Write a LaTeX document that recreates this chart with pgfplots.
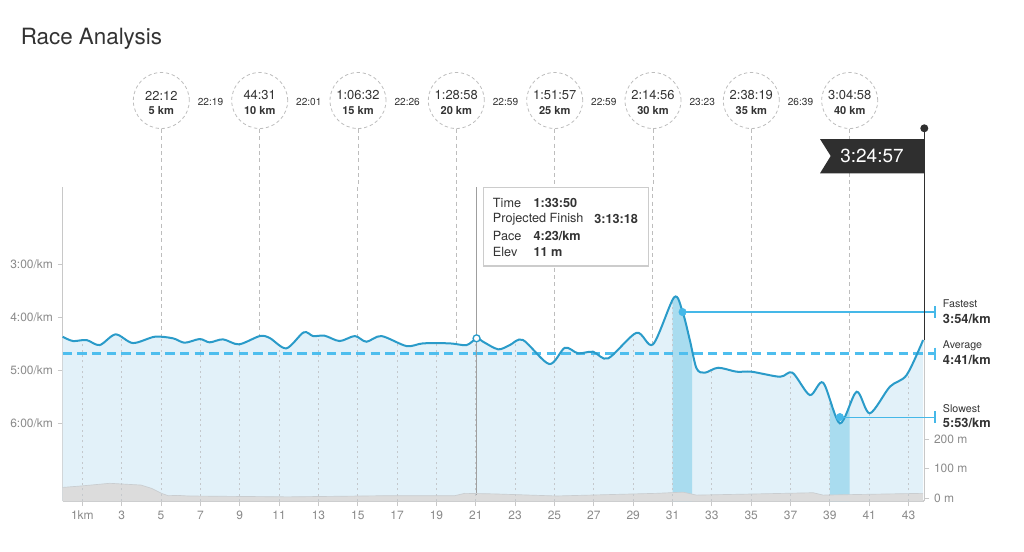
\documentclass[border=0pt]{standalone}
\usepackage{pgfplots}
\pgfplotsset{compat=1.18}
\usepgfplotslibrary{fillbetween}
\usepackage{pgfplotstable}
\usepackage{fontspec}
\setmainfont{TeX Gyre Heros}

\definecolor{paceline}{HTML}{2A9BC9}
\definecolor{pacefill}{HTML}{E2F1F9}
\definecolor{bandfill}{HTML}{A9DCEF}
\definecolor{avgc}{RGB}{78,190,238}
\definecolor{refc}{HTML}{45B8E8}
\definecolor{elevfill}{HTML}{DCDCDC}
\definecolor{elevedge}{HTML}{C9CDD0}
\definecolor{axgrey}{HTML}{C8C8C8}
\definecolor{labgrey}{HTML}{8A8A8A}
\definecolor{gridc}{HTML}{C4C8CC}
\definecolor{splitc}{HTML}{BDBDBD}
\definecolor{txtdark}{HTML}{333333}
\definecolor{flagc}{HTML}{2F2F2F}

\pgfplotstableread{
km pace
0 4.366
0.52 4.447
1.21 4.428
1.88 4.523
2.69 4.321
3.57 4.485
4.68 4.366
5.61 4.396
6.20 4.479
6.97 4.409
7.47 4.472
8.15 4.415
8.96 4.509
10.02 4.353
10.53 4.391
11.37 4.585
12.25 4.283
12.73 4.353
13.32 4.347
14.08 4.447
14.85 4.353
15.44 4.460
16.20 4.353
17.48 4.542
18.32 4.491
19.68 4.491
20.53 4.523
21.04 4.396
21.37 4.460
22.14 4.604
22.73 4.523
23.40 4.428
24.73 4.881
25.53 4.574
26.20 4.679
26.96 4.649
27.73 4.774
29.17 4.291
30.01 4.509
31.08 3.623
31.51 3.894
31.88 4.428
32.22 4.962
32.64 5.045
33.32 4.951
34.26 5.026
35.02 5.026
36.46 5.121
37.10 5.045
37.98 5.466
38.66 5.234
39.51 6.000
40.36 5.404
41.03 5.811
42.05 5.309
42.90 5.089
43.74 4.428
}\pacetable

\pgfplotstableread{
km elev
0 36
0.95 41
2.39 50
3.98 44
4.51 33
5.02 16
5.36 8
5.86 9
6.37 7
11.46 4
16.5 8
19.93 8
20.44 16
21.97 14
25.1 7
30.19 16
31.54 20
32.22 10
35.27 14
38.15 18
38.66 10
42.05 14
43.74 16
}\elevtable

\begin{document}
\begin{tikzpicture}
\begin{scope}[x=0.75pt,y=-0.75pt,shift={(-62.7,-501)}]
\useasboundingbox (0,0) rectangle (1024,551);
\end{scope}

\begin{axis}[
  at={(0,0)}, anchor=south west, scale only axis,
  width=646.2pt, height=235.5pt,
  xmin=0, xmax=43.8, ymin=-7.466, ymax=-1.54,
  clip=false,
  axis x line*=bottom, axis y line*=left,
  axis line style={draw=axgrey, line width=0.8pt},
  xtick={1,3,...,43},
  xticklabels={1km,3,5,7,9,11,13,15,17,19,21,23,25,27,29,31,33,35,37,39,41,43},
  ytick={-6,-5,-4,-3},
  yticklabels={6:00/km,5:00/km,4:00/km,3:00/km},
  tick align=outside, major tick length=3.75pt,
  tick style={draw=axgrey, line width=0.6pt},
  ticklabel style={font=\fontsize{9}{10}\selectfont, text=labgrey},
]
\addplot[draw=none, name path=pace, smooth] table[x=km, y expr=-\thisrow{pace}] {\pacetable};
\path[name path=bot] (axis cs:0,-7.466) -- (axis cs:43.74,-7.466);
\path[name path=topl] (axis cs:0,-1.54) -- (axis cs:43.74,-1.54);
\addplot[fill=pacefill, draw=none] fill between[of=pace and bot];
\addplot[fill=bandfill, draw=none] fill between[of=pace and bot, soft clip={domain=31:32}];
\addplot[fill=bandfill, draw=none] fill between[of=pace and bot, soft clip={domain=39:40}];
\begin{scope}
\clip[intersection segments={of=pace and bot, sequence={A* -- B*[reverse]}}] -- cycle;
\pgfplotsinvokeforeach{1,3,...,43}{\draw[gridc, line width=0.6pt, dash pattern=on 1.5pt off 2.5pt] (axis cs:#1,-7.466) -- (axis cs:#1,-1.54);}
\end{scope}
\begin{scope}
\clip[intersection segments={of=pace and topl, sequence={A* -- B*[reverse]}}] -- cycle;
\pgfplotsinvokeforeach{5,10,...,40}{\draw[splitc, line width=0.7pt, dash pattern=on 3pt off 2.5pt] (axis cs:#1,-1.54) -- (axis cs:#1,-7.466);}
\end{scope}
% average
\addplot[draw=avgc, line width=1.6pt, dash pattern=on 7pt off 4pt, line cap=butt, mark=none, forget plot] coordinates {(0,-4.683) (44.34,-4.683)};
\addplot[draw=avgc, solid, line width=0.9pt, mark=none, forget plot] coordinates {(44.34,-4.57) (44.34,-4.796)};
% tooltip line
\draw[gray!75, line width=0.9pt] (axis cs:21.04,-1.54) -- (axis cs:21.04,-7.35);
% pace line
\addplot[paceline, line width=1.5pt, smooth] table[x=km, y expr=-\thisrow{pace}] {\pacetable};
% fastest / slowest
\addplot[color=refc, line width=0.9pt, mark=none] coordinates {(31.51,-3.9) (44.34,-3.9)};
\addplot[color=refc, line width=0.9pt, mark=none] coordinates {(44.34,-3.787) (44.34,-4.013)};
\addplot[color=refc, line width=0.9pt, mark=none] coordinates {(39.51,-5.883) (44.34,-5.883)};
\addplot[color=refc, line width=0.9pt, mark=none] coordinates {(44.34,-5.77) (44.34,-5.996)};
\addplot[only marks, mark=*, mark size=2.8pt, mark options={fill=refc, draw=refc}] coordinates {(31.51,-3.9) (39.51,-5.883)};
\addplot[only marks, mark=*, mark size=2.6pt, mark options={fill=white, draw=paceline, line width=1pt}] coordinates {(21.04,-4.396)};
\end{axis}

\begin{axis}[
  at={(0,0)}, anchor=south west, scale only axis,
  width=646.2pt, height=235.5pt,
  xmin=0, xmax=43.8, ymin=-10, ymax=1054,
  axis x line=none, axis y line*=right,
  axis line style={draw=axgrey, line width=0.8pt},
  ytick={0,100,200}, yticklabels={0 m,100 m,200 m},
  tick align=outside, major tick length=3.75pt,
  tick style={draw=axgrey, line width=0.6pt},
  ticklabel style={font=\fontsize{9}{10}\selectfont, text=labgrey},
]
\addplot[draw=none, name path=elev] table[x=km, y=elev] {\elevtable};
\path[name path=ebot] (axis cs:0,-10) -- (axis cs:43.74,-10);
\addplot[fill=elevfill, draw=none] fill between[of=elev and ebot];
\addplot[elevedge, line width=0.5pt] table[x=km, y=elev] {\elevtable};
\end{axis}

\begin{scope}[x=0.75pt,y=-0.75pt,shift={(-62.7,-501)}]
\node[anchor=base west, inner sep=0, font=\fontsize{16.8}{19}\selectfont, text=txtdark] at (20.5,45) {Race Analysis};
% split circles
\foreach \cx/\t/\d in {161.3/22:12/5 km, 259.7/44:31/10 km, 358/1:06:32/15 km, 456.3/1:28:58/20 km, 554.7/1:51:57/25 km, 653/2:14:56/30 km, 751.3/2:38:19/35 km, 849.7/3:04:58/40 km}{
  \draw[splitc, line width=0.6pt, dash pattern=on 2.5pt off 2pt] (\cx,100.5) circle[radius=21pt];
  \node[font=\fontsize{9.7}{11}\selectfont, text=txtdark, inner sep=0] at (\cx,95.5) {\t};
  \node[font=\bfseries\fontsize{8.3}{10}\selectfont, text=txtdark, inner sep=0] at (\cx,110.5) {\d};
  \draw[splitc, line width=0.7pt, dash pattern=on 3pt off 2.5pt] (\cx,129) -- (\cx,187);
}
\foreach \mx/\t in {210.5/22:19, 308.8/22:01, 407.2/22:26, 505.5/22:59, 603.8/22:59, 702.2/23:23, 800.5/26:39}{
  \node[font=\fontsize{7.6}{9}\selectfont, text=txtdark, inner sep=0] at (\mx,102) {\t};
}
% tooltip
\draw[fill=white, draw=black!20, line width=0.8pt] (483.3,187.3) rectangle (648.3,266);
\begin{scope}[every node/.style={anchor=west, inner sep=0, font=\fontsize{9.5}{11}\selectfont, text=txtdark}]
\node at (492.7,202.7) {Time};
\node[font=\bfseries\fontsize{9.5}{11}\selectfont] at (533.3,202.7) {1:33:50};
\node at (492.7,219) {Projected Finish};
\node[font=\bfseries\fontsize{9.5}{11}\selectfont] at (594,219) {3:13:18};
\node at (492.7,235.7) {Pace};
\node[font=\bfseries\fontsize{9.5}{11}\selectfont] at (533.3,235.7) {4:23/km};
\node at (492.7,252) {Elev};
\node[font=\bfseries\fontsize{9.5}{11}\selectfont] at (533.3,252) {11 m};
\end{scope}
% flag
\draw[flagc, line width=1pt] (924.3,128.3) -- (924.3,340);
\fill[flagc] (924.3,128.3) circle[radius=3pt];
\fill[flagc] (820,139) -- (924.3,139) -- (924.3,173.3) -- (820,173.3) -- (830.7,156) -- cycle;
\node[font=\fontsize{14.2}{16}\selectfont, text=white, inner sep=0] at (872,156) {3:24:57};
% right labels
\begin{scope}[every node/.style={anchor=west, inner sep=0, text=txtdark}]
\node[font=\fontsize{8}{9}\selectfont] at (942.7,304) {Fastest};
\node[font=\bfseries\fontsize{9.6}{11}\selectfont] at (942.7,318.5) {3:54/km};
\node[font=\fontsize{8}{9}\selectfont] at (942.7,345.7) {Average};
\node[font=\bfseries\fontsize{9.6}{11}\selectfont] at (942.7,359.5) {4:41/km};
\node[font=\fontsize{8}{9}\selectfont] at (942.7,409) {Slowest};
\node[font=\bfseries\fontsize{9.6}{11}\selectfont] at (942.7,423) {5:53/km};
\end{scope}
\end{scope}
\end{tikzpicture}
\end{document}
